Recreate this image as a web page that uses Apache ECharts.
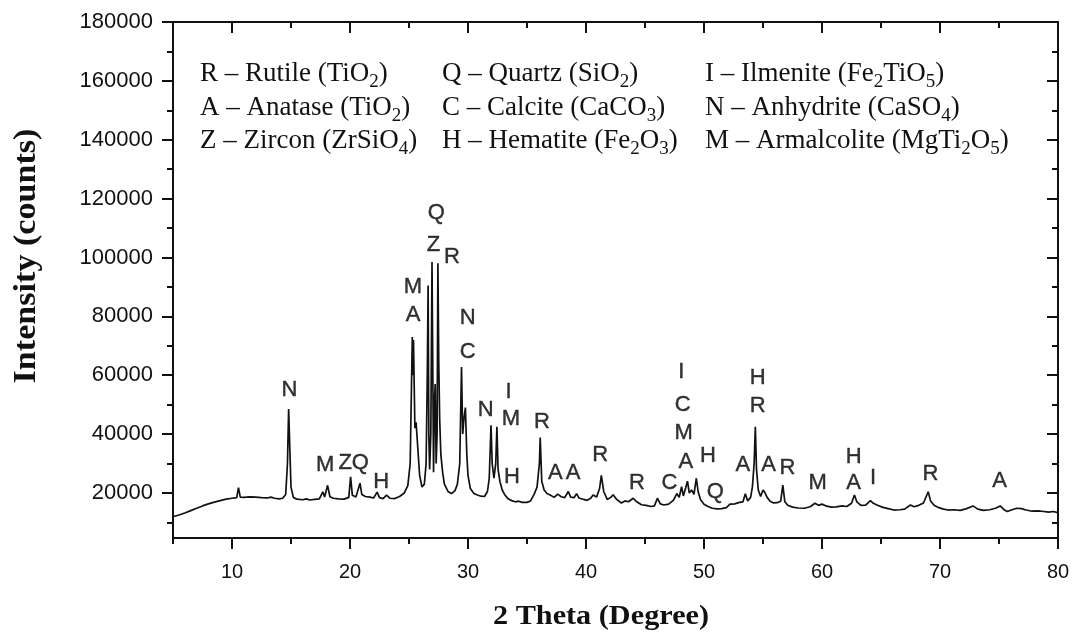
<!DOCTYPE html>
<html><head><meta charset="utf-8">
<script src="https://cdn.jsdelivr.net/npm/echarts@6/dist/echarts.min.js"></script>
<style>html,body{margin:0;padding:0;background:#fff}#c{width:1075px;height:634px}</style>
</head><body><div id="c"></div>
<script>
// XRD pattern: [2theta (deg), intensity (counts)]
const pattern = [[5.0,11900],[5.5,12500],[6.0,13200],[6.5,14000],[7.0,14800],[7.5,15600],[8.0,16300],[8.5,16900],[9.0,17400],[9.5,17900],[10.0,18200],[10.4,18400],[10.55,21800],[10.7,18600],[11.0,18500],[11.5,18700],[12.0,18600],[12.5,18400],[13.0,18300],[13.3,18600],[13.6,18200],[14.0,18000],[14.3,18200],[14.55,19500],[14.7,30000],[14.8,48500],[14.9,35000],[15.0,22000],[15.2,18500],[15.5,17900],[16.0,17700],[16.3,18000],[16.6,17600],[17.0,17800],[17.4,18000],[17.7,20400],[17.85,18600],[18.1,22600],[18.3,18700],[18.6,18200],[19.0,18000],[19.5,17900],[19.9,18500],[20.05,25500],[20.2,19200],[20.5,18600],[20.85,23300],[21.0,19500],[21.3,18800],[21.7,18600],[22.0,18300],[22.3,20300],[22.5,18400],[22.8,18100],[23.1,19300],[23.4,18200],[23.8,18100],[24.2,18800],[24.6,20000],[24.9,22500],[25.1,30000],[25.28,73000],[25.33,60000],[25.38,72000],[25.5,42000],[25.6,44000],[25.75,35000],[25.9,26000],[26.1,22000],[26.3,23000],[26.45,30000],[26.55,60000],[26.62,90500],[26.68,40000],[26.75,28000],[26.85,40000],[26.95,98500],[27.02,60000],[27.08,27000],[27.15,50000],[27.22,57000],[27.3,30000],[27.38,40000],[27.45,98000],[27.52,65000],[27.6,45000],[27.7,33000],[27.85,27000],[28.0,23000],[28.3,20500],[28.6,19800],[28.9,20800],[29.1,23000],[29.3,30000],[29.45,62800],[29.55,40000],[29.65,45000],[29.78,49000],[29.9,33000],[30.0,26000],[30.2,21500],[30.5,19800],[30.8,19300],[31.1,18900],[31.4,18800],[31.65,20500],[31.8,25000],[31.95,43000],[32.05,30000],[32.2,25000],[32.35,30000],[32.45,42500],[32.55,28000],[32.7,24000],[32.9,21000],[33.1,19500],[33.4,18000],[33.7,17400],[34.0,17000],[34.3,17200],[34.6,16800],[35.0,16800],[35.3,17300],[35.6,19500],[35.85,22000],[36.05,30000],[36.12,38800],[36.25,24000],[36.45,21000],[36.7,19800],[37.0,19200],[37.3,18500],[37.6,19600],[37.9,18700],[38.2,18400],[38.5,20500],[38.7,18600],[39.0,18400],[39.2,19800],[39.4,18300],[39.8,17800],[40.1,17500],[40.4,18200],[40.6,19300],[40.9,18600],[41.15,21500],[41.3,26000],[41.5,20500],[41.8,17800],[42.1,18500],[42.3,19400],[42.6,17800],[43.0,16600],[43.3,17300],[43.6,17000],[44.0,18200],[44.3,17000],[44.7,16000],[45.1,15800],[45.5,15400],[45.8,15600],[46.05,18200],[46.3,16300],[46.6,15900],[47.0,16200],[47.4,17500],[47.7,19800],[47.9,18500],[48.1,22100],[48.25,19000],[48.45,21800],[48.6,24000],[48.75,20000],[48.95,21000],[49.15,19500],[49.35,25000],[49.5,20500],[49.7,17800],[50.0,16200],[50.3,15500],[50.7,14800],[51.1,14600],[51.5,14700],[51.9,15000],[52.2,16200],[52.6,16300],[53.0,16800],[53.3,17000],[53.5,19700],[53.7,17300],[53.95,18500],[54.1,22000],[54.25,30000],[54.35,42500],[54.45,28000],[54.6,21000],[54.8,18800],[55.0,21000],[55.15,20200],[55.35,18500],[55.6,17200],[55.9,16600],[56.2,16700],[56.5,17200],[56.68,22700],[56.85,17000],[57.1,15800],[57.5,15200],[58.0,14900],[58.5,14800],[59.0,15300],[59.4,16500],[59.7,15800],[60.0,16200],[60.4,15500],[60.8,15200],[61.2,15300],[61.7,15600],[62.1,15400],[62.5,16500],[62.75,19300],[62.95,17000],[63.3,15800],[63.7,15900],[64.1,17400],[64.35,16500],[64.7,15800],[65.1,15200],[65.6,14700],[66.1,14200],[66.6,14300],[67.0,14500],[67.5,15900],[67.8,15300],[68.2,15800],[68.6,16600],[69.0,20400],[69.2,17300],[69.5,15800],[69.9,15000],[70.3,14500],[70.7,14200],[71.2,14300],[71.7,14100],[72.2,14600],[72.8,15600],[73.2,14500],[73.7,14100],[74.2,14300],[74.7,14800],[75.1,15600],[75.4,14400],[75.7,13700],[76.1,14300],[76.5,14800],[76.9,14700],[77.3,14200],[77.8,13800],[78.3,13900],[78.8,13700],[79.2,13500],[79.6,13700],[80.0,13300]];

// Phase labels above peaks: [letter, 2theta, intensity at label centre]
const peakLabels = [['N',14.86,55000],['M',17.9,29500],['Z',19.6,30100],['Q',20.87,30100],['H',22.65,23840],['M',25.34,90000],['A',25.34,80500],['Q',27.31,115100],['Z',27.08,104200],['R',28.64,100300],['N',29.97,79300],['C',29.97,68000],['N',31.5,48200],['I',33.44,54300],['M',33.63,45300],['H',33.73,25500],['R',36.27,44200],['A',37.4,26700],['A',38.9,26700],['R',41.21,32900],['R',44.32,23300],['C',47.08,23300],['I',48.08,61200],['C',48.19,49900],['M',48.27,40300],['A',48.47,30600],['H',50.34,32600],['Q',50.96,20400],['H',54.54,59000],['R',54.54,49500],['A',53.3,29500],['A',55.47,29500],['R',57.08,28400],['M',59.63,23500],['H',62.68,32300],['A',62.68,23500],['I',64.32,25000],['R',69.18,26450],['A',75.05,24200]];

// Phase key (three columns)
const keyCol1 = ['R \u2013 Rutile (TiO{s|2})', 'A \u2013 Anatase (TiO{s|2})', 'Z \u2013 Zircon (ZrSiO{s|4})'];
const keyCol2 = ['Q \u2013 Quartz (SiO{s|2})', 'C \u2013 Calcite (CaCO{s|3})', 'H \u2013 Hematite (Fe{s|2}O{s|3})'];
const keyCol3 = ['I \u2013 Ilmenite (Fe{s|2}TiO{s|5})', 'N \u2013 Anhydrite (CaSO{s|4})', 'M \u2013 Armalcolite (MgTi{s|2}O{s|5})'];

const xMajorTicks = [10,20,30,40,50,60,70,80];
const xMinorTicks = [5,15,25,35,45,55,65,75];
const yMajorTicks = [20000,40000,60000,80000,100000,120000,140000,160000,180000];
const yMinorTicks = [10000,30000,50000,70000,90000,110000,130000,150000,170000];
const xTitle = '2 Theta (Degree)';
const yTitle = 'Intensity (counts)';

const INK = '#111';
const X_MIN = 5, X_MAX = 80, Y_MIN = 4700, Y_MAX = 180000;

function xAxisDef(pos, ticks, len, inside, showLine, showLabel) {
  return {
    type: 'value', min: X_MIN, max: X_MAX, position: pos,
    axisLine: {show: showLine, onZero: false, lineStyle: {color: INK, width: 2}},
    axisTick: {show: true, inside: inside, length: len, customValues: ticks, lineStyle: {color: INK, width: 2}},
    axisLabel: {show: showLabel, customValues: ticks, margin: 24, color: INK, fontFamily: 'Liberation Sans', fontSize: 20,
      formatter: v => String(v)},
    splitLine: {show: false}
  };
}
function yAxisDef(pos, ticks, len, inside, showLine, showLabel) {
  return {
    type: 'value', min: Y_MIN, max: Y_MAX, position: pos,
    axisLine: {show: showLine, onZero: false, lineStyle: {color: INK, width: 2}},
    axisTick: {show: true, inside: inside, length: len, customValues: ticks, lineStyle: {color: INK, width: 2}},
    axisLabel: {show: showLabel, customValues: ticks, margin: 20, color: INK, fontFamily: 'Liberation Sans', fontSize: 22,
      formatter: v => String(v)},
    splitLine: {show: false}
  };
}

const subStyle = {fontSize: 19, fontFamily: 'Liberation Serif', padding: [16, 0, 0, 0], fill: INK, color: INK};
const keyX = [200, 442, 705];
const keyY = [74, 108, 141];
const graphics = [];
[keyCol1, keyCol2, keyCol3].forEach((col, ci) => {
  col.forEach((txt, ri) => {
    graphics.push({
      type: 'text', x: keyX[ci], y: keyY[ri], silent: true,
      style: {text: txt, fill: INK, fontSize: 27, fontFamily: 'Liberation Serif',
        textAlign: 'left', textVerticalAlign: 'middle', rich: {s: subStyle}}
    });
  });
});
graphics.push({type: 'text', x: 601, y: 617, scaleX: 1.08, silent: true,
  style: {text: xTitle, fill: INK, fontSize: 28, fontWeight: 'bold', fontFamily: 'Liberation Serif', textAlign: 'center', textVerticalAlign: 'middle'}});
graphics.push({type: 'text', x: 27, y: 256, rotation: Math.PI / 2, scaleX: 1.1, silent: true,
  style: {text: yTitle, fill: INK, fontSize: 31, fontWeight: 'bold', fontFamily: 'Liberation Serif', textAlign: 'center', textVerticalAlign: 'middle'}});

const chart = echarts.init(document.getElementById('c'), null, {renderer: 'canvas'});
chart.setOption({
  animation: false,
  backgroundColor: '#fff',
  grid: {left: 173, top: 22, width: 885, height: 516, containLabel: false},
  xAxis: [
    xAxisDef('bottom', xMajorTicks, 11, false, true, true),
    xAxisDef('bottom', xMinorTicks, 6, false, false, false),
    xAxisDef('top', xMajorTicks, 11, true, true, false),
    xAxisDef('top', xMinorTicks, 6, true, false, false)
  ],
  yAxis: [
    yAxisDef('left', yMajorTicks, 11, false, true, true),
    yAxisDef('left', yMinorTicks, 6, false, false, false),
    yAxisDef('right', yMajorTicks, 11, true, true, false),
    yAxisDef('right', yMinorTicks, 6, true, false, false)
  ],
  series: [
    {type: 'line', xAxisIndex: 0, yAxisIndex: 0, data: pattern, showSymbol: false, symbol: 'none',
      lineStyle: {color: INK, width: 1.7}, silent: true, z: 3},
    {type: 'scatter', xAxisIndex: 0, yAxisIndex: 0, symbol: 'circle', symbolSize: 2,
      itemStyle: {color: 'rgba(0,0,0,0)'}, silent: true, z: 4,
      labelLayout: {hideOverlap: false},
      data: peakLabels.map(p => ({name: p[0], value: [p[1], p[2]]})),
      label: {show: true, position: 'inside', formatter: '{b}', color: '#000', fontFamily: 'Liberation Sans', fontSize: 22,
        textBorderColor: '#000', textBorderWidth: 0.4}}
  ],
  graphic: graphics
});
</script>
</body></html>
